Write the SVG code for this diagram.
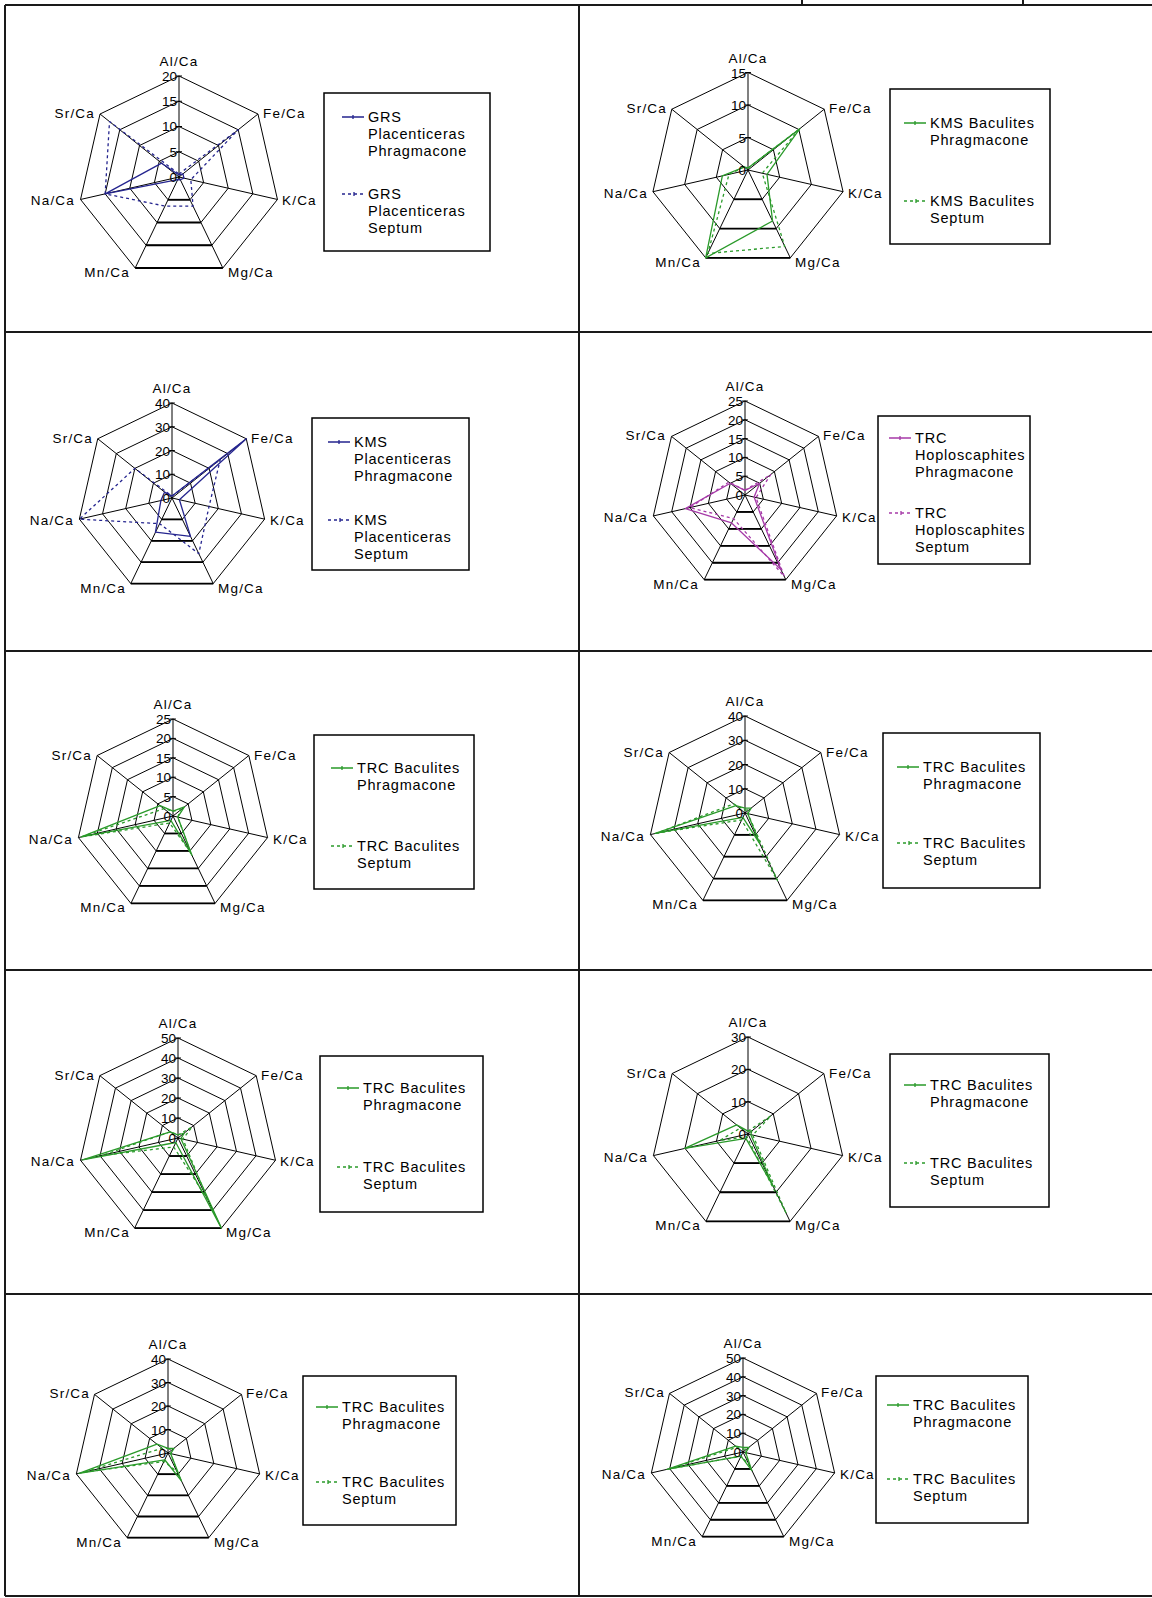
<svg xmlns="http://www.w3.org/2000/svg" xmlns:xlink="http://www.w3.org/1999/xlink" width="1152" height="1598" viewBox="0 0 1152 1598">
<style>
.tb{stroke:#1a1a1a;stroke-width:2;fill:none}
.gr{fill:none;stroke:#000;stroke-width:1;vector-effect:non-scaling-stroke}
text{font-family:"Liberation Sans",Arial,sans-serif;fill:#000}
.ax{font-size:13.5px;letter-spacing:1.2px}
.sc{font-size:13.5px;text-anchor:end}
.lg{font-size:14.5px;letter-spacing:0.8px}
.box{fill:#fff;stroke:#000;stroke-width:1.5}
.s{fill:none;stroke-width:1.3;stroke-linejoin:round;vector-effect:non-scaling-stroke}
.d{stroke-dasharray:3 3}
.ls{fill:none;stroke-width:1.3}
.blue{stroke:#25258f}
.green{stroke:#2a9a2a}
.mag{stroke:#a63aa8}
</style>
<defs>
<polygon id="hep" points="0,-100 78.18,-62.35 97.49,22.25 43.39,90.1 -43.39,90.1 -97.49,22.25 -78.18,-62.35" fill="none" stroke="#000" stroke-width="1" vector-effect="non-scaling-stroke"/>
<path id="hb" d="M-43.39,90.1H43.39" fill="none" stroke="#000" stroke-width="1.8" vector-effect="non-scaling-stroke"/>
<path id="spk" d="M0,0V-100M0,0L78.18,-62.35M0,0L97.49,22.25M0,0L43.39,90.1M0,0L-43.39,90.1M0,0L-97.49,22.25M0,0L-78.18,-62.35" fill="none" stroke="#000" stroke-width="1" vector-effect="non-scaling-stroke"/>
</defs>

<g id="table">
<path class="tb" d="M5,5H1152M5,5V1596M579,5V1596M5,332H1152M5,651H1152M5,970H1152M5,1294H1152M5,1596H1152M802,0V5M1023,0V5"/>
</g>

<!-- Chart 1 -->
<g id="chart1">
<g transform="translate(179,177) scale(1.01)">
<use href="#hep" transform="scale(0.25)"/><use href="#hep" transform="scale(0.5)"/><use href="#hep" transform="scale(0.75)"/><use href="#hep"/><use href="#spk"/>
<use href="#hb" transform="scale(0.25)"/><use href="#hb" transform="scale(0.5)"/><use href="#hb" transform="scale(0.75)"/><use href="#hb"/>
<path class="gr" d="M-3,-25H3M-3,-50H3M-3,-75H3M-3,-100H3"/>
<polygon class="s blue" points="0,-2 3.9,-3.1 4.9,1.1 1.3,2.7 -1.3,2.7 -73.1,16.7 -17.2,-13.7"/>
<polygon class="s blue d" points="0,-3 58.6,-46.8 11.7,2.7 13.9,28.8 -13.9,28.8 -73.1,16.7 -68.8,-54.9"/>
</g>
<text class="sc" x="177" y="81">20</text><text class="sc" x="177" y="106">15</text><text class="sc" x="177" y="131">10</text><text class="sc" x="177" y="157">5</text><text class="sc" x="177" y="182">0</text>
<text class="ax" x="179" y="66" text-anchor="middle">Al/Ca</text>
<text class="ax" x="263" y="118">Fe/Ca</text>
<text class="ax" x="282" y="205">K/Ca</text>
<text class="ax" x="228" y="277">Mg/Ca</text>
<text class="ax" x="130" y="277" text-anchor="end">Mn/Ca</text>
<text class="ax" x="75" y="205" text-anchor="end">Na/Ca</text>
<text class="ax" x="95" y="118" text-anchor="end">Sr/Ca</text>
<rect class="box" x="324" y="93" width="166" height="158"/>
<path class="ls blue" d="M342,117H364M353,115V119"/>
<path class="ls blue d" d="M342,194H364"/><path class="ls blue" d="M354,192V196"/>
<text class="lg" x="368" y="122">GRS</text><text class="lg" x="368" y="139">Placenticeras</text><text class="lg" x="368" y="156">Phragmacone</text>
<text class="lg" x="368" y="199">GRS</text><text class="lg" x="368" y="216">Placenticeras</text><text class="lg" x="368" y="233">Septum</text>
</g>

<!-- Chart 2 -->
<g id="chart2">
<g transform="translate(748,170) scale(0.975)">
<use href="#hep" transform="scale(0.3333)"/><use href="#hep" transform="scale(0.6667)"/><use href="#hep"/><use href="#spk"/>
<use href="#hb" transform="scale(0.3333)"/><use href="#hb" transform="scale(0.6667)"/><use href="#hb"/>
<path class="gr" d="M-3,-33.3H3M-3,-66.7H3M-3,-100H3"/>
<polygon class="s green" points="0,-2 53.2,-42.4 19.5,4.5 25.2,52.3 -43.4,90.1 -26.3,6 -3.9,-3.1"/>
<polygon class="s green d" points="0,-2 53.2,-42.4 14.6,3.3 37.7,78.4 -41.2,85.6 -19.5,4.5 -3.9,-3.1"/>
</g>
<text class="sc" x="746" y="78">15</text><text class="sc" x="746" y="110">10</text><text class="sc" x="746" y="143">5</text><text class="sc" x="746" y="175">0</text>
<text class="ax" x="748" y="62.5" text-anchor="middle">Al/Ca</text>
<text class="ax" x="829" y="113">Fe/Ca</text>
<text class="ax" x="848" y="198">K/Ca</text>
<text class="ax" x="795" y="267">Mg/Ca</text>
<text class="ax" x="701" y="267" text-anchor="end">Mn/Ca</text>
<text class="ax" x="648" y="198" text-anchor="end">Na/Ca</text>
<text class="ax" x="667" y="113" text-anchor="end">Sr/Ca</text>
<rect class="box" x="890" y="89" width="160" height="155"/>
<path class="ls green" d="M904,123H926M915,121V125"/>
<path class="ls green d" d="M904,201H926"/><path class="ls green" d="M916,199V203"/>
<text class="lg" x="930" y="128">KMS Baculites</text><text class="lg" x="930" y="145">Phragmacone</text>
<text class="lg" x="930" y="206">KMS Baculites</text><text class="lg" x="930" y="223">Septum</text>
</g>

<!-- Chart 3 -->
<g id="chart3">
<g transform="translate(172,498) scale(0.95)">
<use href="#hep" transform="scale(0.25)"/><use href="#hep" transform="scale(0.5)"/><use href="#hep" transform="scale(0.75)"/><use href="#hep"/><use href="#spk"/>
<use href="#hb" transform="scale(0.25)"/><use href="#hb" transform="scale(0.5)"/><use href="#hb" transform="scale(0.75)"/><use href="#hb"/>
<path class="gr" d="M-3,-25H3M-3,-50H3M-3,-75H3M-3,-100H3"/>
<polygon class="s blue" points="0,-2 78.2,-62.4 7.8,1.8 19.5,40.5 -17.4,36 -11.7,2.7 -7.8,-6.2"/>
<polygon class="s blue d" points="0,-2 50.8,-40.5 39,8.9 28.2,58.6 -13,27 -97.5,22.3 -39.1,-31.2"/>
</g>
<text class="sc" x="170" y="408">40</text><text class="sc" x="170" y="432">30</text><text class="sc" x="170" y="456">20</text><text class="sc" x="170" y="479">10</text><text class="sc" x="170" y="503">0</text>
<text class="ax" x="172" y="393" text-anchor="middle">Al/Ca</text>
<text class="ax" x="251" y="443">Fe/Ca</text>
<text class="ax" x="270" y="525">K/Ca</text>
<text class="ax" x="218" y="593">Mg/Ca</text>
<text class="ax" x="126" y="593" text-anchor="end">Mn/Ca</text>
<text class="ax" x="74" y="525" text-anchor="end">Na/Ca</text>
<text class="ax" x="93" y="443" text-anchor="end">Sr/Ca</text>
<rect class="box" x="312" y="418" width="157" height="152"/>
<path class="ls blue" d="M328,442H350M339,440V444"/>
<path class="ls blue d" d="M328,520H350"/><path class="ls blue" d="M340,518V522"/>
<text class="lg" x="354" y="447">KMS</text><text class="lg" x="354" y="464">Placenticeras</text><text class="lg" x="354" y="481">Phragmacone</text>
<text class="lg" x="354" y="525">KMS</text><text class="lg" x="354" y="542">Placenticeras</text><text class="lg" x="354" y="559">Septum</text>
</g>

<!-- Chart 4 -->
<g id="chart4">
<g transform="translate(745,495) scale(0.94)">
<use href="#hep" transform="scale(0.2)"/><use href="#hep" transform="scale(0.4)"/><use href="#hep" transform="scale(0.6)"/><use href="#hep" transform="scale(0.8)"/><use href="#hep"/><use href="#spk"/>
<use href="#hb" transform="scale(0.2)"/><use href="#hb" transform="scale(0.4)"/><use href="#hb" transform="scale(0.6)"/><use href="#hb" transform="scale(0.8)"/><use href="#hb"/>
<path class="gr" d="M-3,-20H3M-3,-40H3M-3,-60H3M-3,-80H3M-3,-100H3"/>
<polygon class="s mag" points="0,-5 15.6,-12.5 9.7,2.2 38.2,79.3 -14.3,29.7 -63.4,14.5 -15.6,-12.5"/>
<polygon class="s mag d" points="0,-5 27.4,-21.8 11.7,2.7 41.7,86.5 -12.1,25.2 -58.5,13.4 -17.2,-13.7"/>
</g>
<text class="sc" x="743" y="406">25</text><text class="sc" x="743" y="425">20</text><text class="sc" x="743" y="444">15</text><text class="sc" x="743" y="462">10</text><text class="sc" x="743" y="481">5</text><text class="sc" x="743" y="500">0</text>
<text class="ax" x="745" y="391" text-anchor="middle">Al/Ca</text>
<text class="ax" x="823" y="440">Fe/Ca</text>
<text class="ax" x="842" y="522">K/Ca</text>
<text class="ax" x="791" y="589">Mg/Ca</text>
<text class="ax" x="699" y="589" text-anchor="end">Mn/Ca</text>
<text class="ax" x="648" y="522" text-anchor="end">Na/Ca</text>
<text class="ax" x="666" y="440" text-anchor="end">Sr/Ca</text>
<rect class="box" x="878" y="416" width="152" height="148"/>
<path class="ls mag" d="M889,438H911M900,436V440"/>
<path class="ls mag d" d="M889,513H911"/><path class="ls mag" d="M901,511V515"/>
<text class="lg" x="915" y="443">TRC</text><text class="lg" x="915" y="460">Hoploscaphites</text><text class="lg" x="915" y="477">Phragmacone</text>
<text class="lg" x="915" y="518">TRC</text><text class="lg" x="915" y="535">Hoploscaphites</text><text class="lg" x="915" y="552">Septum</text>
</g>

<!-- Chart 5 -->
<g id="chart5">
<g transform="translate(173,816) scale(0.97)">
<use href="#hep" transform="scale(0.2)"/><use href="#hep" transform="scale(0.4)"/><use href="#hep" transform="scale(0.6)"/><use href="#hep" transform="scale(0.8)"/><use href="#hep"/><use href="#spk"/>
<use href="#hb" transform="scale(0.2)"/><use href="#hb" transform="scale(0.4)"/><use href="#hb" transform="scale(0.6)"/><use href="#hb" transform="scale(0.8)"/><use href="#hb"/>
<path class="gr" d="M-3,-20H3M-3,-40H3M-3,-60H3M-3,-80H3M-3,-100H3"/>
<polygon class="s green" points="0,-5 11.7,-9.4 4.9,1.1 19.5,40.5 -2.2,4.5 -94.6,21.6 -13.3,-10.6"/>
<polygon class="s green d" points="0,-5 7.8,-6.2 4.9,1.1 18.2,37.8 -3.5,7.2 -94.6,21.6 -9.4,-7.5"/>
</g>
<text class="sc" x="171" y="724">25</text><text class="sc" x="171" y="743">20</text><text class="sc" x="171" y="763">15</text><text class="sc" x="171" y="782">10</text><text class="sc" x="171" y="802">5</text><text class="sc" x="171" y="821">0</text>
<text class="ax" x="173" y="709" text-anchor="middle">Al/Ca</text>
<text class="ax" x="254" y="760">Fe/Ca</text>
<text class="ax" x="273" y="844">K/Ca</text>
<text class="ax" x="220" y="912">Mg/Ca</text>
<text class="ax" x="126" y="912" text-anchor="end">Mn/Ca</text>
<text class="ax" x="73" y="844" text-anchor="end">Na/Ca</text>
<text class="ax" x="92" y="760" text-anchor="end">Sr/Ca</text>
<rect class="box" x="314" y="735" width="160" height="154"/>
<path class="ls green" d="M331,768H353M342,766V770"/>
<path class="ls green d" d="M331,846H353"/><path class="ls green" d="M343,844V848"/>
<text class="lg" x="357" y="773">TRC Baculites</text><text class="lg" x="357" y="790">Phragmacone</text>
<text class="lg" x="357" y="851">TRC Baculites</text><text class="lg" x="357" y="868">Septum</text>
</g>

<!-- Chart 6 -->
<g id="chart6">
<g transform="translate(745,813) scale(0.97)">
<use href="#hep" transform="scale(0.25)"/><use href="#hep" transform="scale(0.5)"/><use href="#hep" transform="scale(0.75)"/><use href="#hep"/><use href="#spk"/>
<use href="#hb" transform="scale(0.25)"/><use href="#hb" transform="scale(0.5)"/><use href="#hb" transform="scale(0.75)"/><use href="#hb"/>
<path class="gr" d="M-3,-25H3M-3,-50H3M-3,-75H3M-3,-100H3"/>
<polygon class="s green" points="0,-5 6.3,-5 2.9,0.7 15.2,31.5 -2.2,4.5 -92.6,21.1 -9.4,-7.5"/>
<polygon class="s green d" points="0,-3 3.9,-3.1 2.9,0.7 33.4,69.4 -3.5,7.2 -90.7,20.7 -11.7,-9.4"/>
</g>
<text class="sc" x="743" y="721">40</text><text class="sc" x="743" y="745">30</text><text class="sc" x="743" y="770">20</text><text class="sc" x="743" y="794">10</text><text class="sc" x="743" y="818">0</text>
<text class="ax" x="745" y="706" text-anchor="middle">Al/Ca</text>
<text class="ax" x="826" y="757">Fe/Ca</text>
<text class="ax" x="845" y="841">K/Ca</text>
<text class="ax" x="792" y="909">Mg/Ca</text>
<text class="ax" x="698" y="909" text-anchor="end">Mn/Ca</text>
<text class="ax" x="645" y="841" text-anchor="end">Na/Ca</text>
<text class="ax" x="664" y="757" text-anchor="end">Sr/Ca</text>
<rect class="box" x="883" y="733" width="157" height="155"/>
<path class="ls green" d="M897,767H919M908,765V769"/>
<path class="ls green d" d="M897,843H919"/><path class="ls green" d="M909,841V845"/>
<text class="lg" x="923" y="772">TRC Baculites</text><text class="lg" x="923" y="789">Phragmacone</text>
<text class="lg" x="923" y="848">TRC Baculites</text><text class="lg" x="923" y="865">Septum</text>
</g>

<!-- Chart 7 -->
<g id="chart7">
<g transform="translate(178,1138)">
<use href="#hep" transform="scale(0.2)"/><use href="#hep" transform="scale(0.4)"/><use href="#hep" transform="scale(0.6)"/><use href="#hep" transform="scale(0.8)"/><use href="#hep"/><use href="#spk"/>
<use href="#hb" transform="scale(0.2)"/><use href="#hb" transform="scale(0.4)"/><use href="#hb" transform="scale(0.6)"/><use href="#hb" transform="scale(0.8)"/><use href="#hb"/>
<path class="gr" d="M-3,-20H3M-3,-40H3M-3,-60H3M-3,-80H3M-3,-100H3"/>
<polygon class="s green" points="0,-3 6.3,-5 2.9,0.7 43.4,90.1 -2.2,4.5 -95.5,21.8 -7.8,-6.2"/>
<polygon class="s green d" points="0,-3 14.1,-11.2 4.9,1.1 29.5,61.3 -4.3,9 -76,17.4 -7.8,-6.2"/>
</g>
<text class="sc" x="176" y="1043">50</text><text class="sc" x="176" y="1063">40</text><text class="sc" x="176" y="1083">30</text><text class="sc" x="176" y="1103">20</text><text class="sc" x="176" y="1123">10</text><text class="sc" x="176" y="1143">0</text>
<text class="ax" x="178" y="1028" text-anchor="middle">Al/Ca</text>
<text class="ax" x="261" y="1080">Fe/Ca</text>
<text class="ax" x="280" y="1166">K/Ca</text>
<text class="ax" x="226" y="1237">Mg/Ca</text>
<text class="ax" x="130" y="1237" text-anchor="end">Mn/Ca</text>
<text class="ax" x="75" y="1166" text-anchor="end">Na/Ca</text>
<text class="ax" x="95" y="1080" text-anchor="end">Sr/Ca</text>
<rect class="box" x="320" y="1056" width="163" height="156"/>
<path class="ls green" d="M337,1088H359M348,1086V1090"/>
<path class="ls green d" d="M337,1167H359"/><path class="ls green" d="M349,1165V1169"/>
<text class="lg" x="363" y="1093">TRC Baculites</text><text class="lg" x="363" y="1110">Phragmacone</text>
<text class="lg" x="363" y="1172">TRC Baculites</text><text class="lg" x="363" y="1189">Septum</text>
</g>

<!-- Chart 8 -->
<g id="chart8">
<g transform="translate(748,1134) scale(0.97)">
<use href="#hep" transform="scale(0.3333)"/><use href="#hep" transform="scale(0.6667)"/><use href="#hep"/><use href="#spk"/>
<use href="#hb" transform="scale(0.3333)"/><use href="#hb" transform="scale(0.6667)"/><use href="#hb"/>
<path class="gr" d="M-3,-33.3H3M-3,-66.7H3M-3,-100H3"/>
<polygon class="s green" points="0,-3 3.9,-3.1 2.9,0.7 26,54.1 -2.2,4.5 -65.3,14.9 -11.7,-9.4"/>
<polygon class="s green d" points="0,-3 23.5,-18.7 4.9,1.1 39.1,81.1 -1.3,2.7 -29.2,6.7 -7.8,-6.2"/>
</g>
<text class="sc" x="746" y="1042">30</text><text class="sc" x="746" y="1074">20</text><text class="sc" x="746" y="1107">10</text><text class="sc" x="746" y="1139">0</text>
<text class="ax" x="748" y="1027" text-anchor="middle">Al/Ca</text>
<text class="ax" x="829" y="1078">Fe/Ca</text>
<text class="ax" x="848" y="1162">K/Ca</text>
<text class="ax" x="795" y="1230">Mg/Ca</text>
<text class="ax" x="701" y="1230" text-anchor="end">Mn/Ca</text>
<text class="ax" x="648" y="1162" text-anchor="end">Na/Ca</text>
<text class="ax" x="667" y="1078" text-anchor="end">Sr/Ca</text>
<rect class="box" x="890" y="1054" width="159" height="153"/>
<path class="ls green" d="M904,1085H926M915,1083V1087"/>
<path class="ls green d" d="M904,1163H926"/><path class="ls green" d="M916,1161V1165"/>
<text class="lg" x="930" y="1090">TRC Baculites</text><text class="lg" x="930" y="1107">Phragmacone</text>
<text class="lg" x="930" y="1168">TRC Baculites</text><text class="lg" x="930" y="1185">Septum</text>
</g>

<!-- Chart 9 -->
<g id="chart9">
<g transform="translate(168,1453) scale(0.94)">
<use href="#hep" transform="scale(0.25)"/><use href="#hep" transform="scale(0.5)"/><use href="#hep" transform="scale(0.75)"/><use href="#hep"/><use href="#spk"/>
<use href="#hb" transform="scale(0.25)"/><use href="#hb" transform="scale(0.5)"/><use href="#hb" transform="scale(0.75)"/><use href="#hb"/>
<path class="gr" d="M-3,-25H3M-3,-50H3M-3,-75H3M-3,-100H3"/>
<polygon class="s green" points="0,-5 6.3,-5 2.9,0.7 14.3,29.7 -3.5,7.2 -94.6,21.6 -11.7,-9.4"/>
<polygon class="s green d" points="0,-5 3.9,-3.1 2.9,0.7 9.5,19.8 -4.3,9 -89.7,20.5 -6.3,-5"/>
</g>
<text class="sc" x="166" y="1364">40</text><text class="sc" x="166" y="1388">30</text><text class="sc" x="166" y="1411">20</text><text class="sc" x="166" y="1435">10</text><text class="sc" x="166" y="1458">0</text>
<text class="ax" x="168" y="1349" text-anchor="middle">Al/Ca</text>
<text class="ax" x="246" y="1398">Fe/Ca</text>
<text class="ax" x="265" y="1480">K/Ca</text>
<text class="ax" x="214" y="1547">Mg/Ca</text>
<text class="ax" x="122" y="1547" text-anchor="end">Mn/Ca</text>
<text class="ax" x="71" y="1480" text-anchor="end">Na/Ca</text>
<text class="ax" x="90" y="1398" text-anchor="end">Sr/Ca</text>
<rect class="box" x="303" y="1376" width="153" height="149"/>
<path class="ls green" d="M316,1407H338M327,1405V1409"/>
<path class="ls green d" d="M316,1482H338"/><path class="ls green" d="M328,1480V1484"/>
<text class="lg" x="342" y="1412">TRC Baculites</text><text class="lg" x="342" y="1429">Phragmacone</text>
<text class="lg" x="342" y="1487">TRC Baculites</text><text class="lg" x="342" y="1504">Septum</text>
</g>

<!-- Chart 10 -->
<g id="chart10">
<g transform="translate(743,1452) scale(0.94)">
<use href="#hep" transform="scale(0.2)"/><use href="#hep" transform="scale(0.4)"/><use href="#hep" transform="scale(0.6)"/><use href="#hep" transform="scale(0.8)"/><use href="#hep"/><use href="#spk"/>
<use href="#hb" transform="scale(0.2)"/><use href="#hb" transform="scale(0.4)"/><use href="#hb" transform="scale(0.6)"/><use href="#hb" transform="scale(0.8)"/><use href="#hb"/>
<path class="gr" d="M-3,-20H3M-3,-40H3M-3,-60H3M-3,-80H3M-3,-100H3"/>
<polygon class="s green" points="0,-5 6.3,-5 2.9,0.7 9.5,19.8 -2.2,4.5 -80.9,18.5 -7.8,-6.2"/>
<polygon class="s green d" points="0,-3 3.9,-3.1 2.9,0.7 6.5,13.5 -2.2,4.5 -78,17.8 -6.3,-5"/>
</g>
<text class="sc" x="741" y="1363">50</text><text class="sc" x="741" y="1382">40</text><text class="sc" x="741" y="1401">30</text><text class="sc" x="741" y="1419">20</text><text class="sc" x="741" y="1438">10</text><text class="sc" x="741" y="1457">0</text>
<text class="ax" x="743" y="1348" text-anchor="middle">Al/Ca</text>
<text class="ax" x="821" y="1397">Fe/Ca</text>
<text class="ax" x="840" y="1479">K/Ca</text>
<text class="ax" x="789" y="1546">Mg/Ca</text>
<text class="ax" x="697" y="1546" text-anchor="end">Mn/Ca</text>
<text class="ax" x="646" y="1479" text-anchor="end">Na/Ca</text>
<text class="ax" x="665" y="1397" text-anchor="end">Sr/Ca</text>
<rect class="box" x="876" y="1376" width="152" height="147"/>
<path class="ls green" d="M887,1405H909M898,1403V1407"/>
<path class="ls green d" d="M887,1479H909"/><path class="ls green" d="M899,1477V1481"/>
<text class="lg" x="913" y="1410">TRC Baculites</text><text class="lg" x="913" y="1427">Phragmacone</text>
<text class="lg" x="913" y="1484">TRC Baculites</text><text class="lg" x="913" y="1501">Septum</text>
</g>
</svg>
